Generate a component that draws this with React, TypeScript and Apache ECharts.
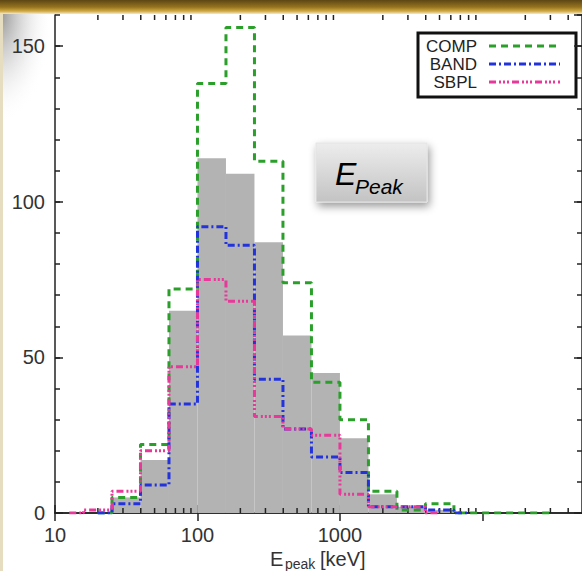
import React, { useEffect, useRef } from 'react';
import * as echarts from 'echarts';

// Histogram bins: 0.2 dex wide, from 10 keV
const binEdges = [10, 15.85, 25.12, 39.81, 63.1, 100, 158.5, 251.2, 398.1, 631, 1000, 1585, 2512, 3981, 6310, 10000, 15850, 25120, 39810];
const binCenters = [12.59, 19.95, 31.62, 50.12, 79.43, 125.9, 199.5, 316.2, 501.2, 794.3, 1259, 1995, 3162, 5012, 7943, 12590, 19950, 31620];

// Gray histogram (best-fit model sample)
const totalCounts = [0, 0, 5, 17, 65, 114, 109, 87, 57, 45, 24, 6, 2, 1, 0, 0, 0, 0];
// Per-model histograms (null = not drawn)
const compCounts = [null, 0, 5, 22, 72, 138, 156, 113, 74, 42, 30, 7, 1, 3, 0, 0, 0, 0];
const bandCounts = [null, 0, 3, 9, 35, 92, 86, 43, 27, 18, 13, 2, 2, 1, 0, null, null, null];
const sbplCounts = [0, 1, 7, 20, 47, 75, 68, 31, 27, 25, 6, 2, 2, 0, null, null, null, null];

const seriesNames = ['COMP', 'BAND', 'SBPL'];
const xMajorTicks = [10, 100, 1000, 10000];
const xMinorTicks = [20, 30, 40, 50, 60, 70, 80, 90, 200, 300, 400, 500, 600, 700, 800, 900, 2000, 3000, 4000, 5000, 6000, 7000, 8000, 9000, 20000, 30000, 40000];

const GREEN = '#2a9f2a';
const BLUE = '#2233dd';
const PINK = '#e8389a';
const GRAY = '#b3b3b3';
const AXIS = '#222';
const FONT = '"Liberation Sans", Arial, Helvetica, sans-serif';

const dashComp = [7, 5];
const dashBand = [7, 3, 2, 3];
const dashSbpl = [7, 3, 2, 2, 2, 2, 2, 3];

// IDL psym=10 style step line through bin centers, transitions at bin edges
function stepPoints(vals: (number | null)[]) {
  const idx: number[] = [];
  vals.forEach((v, i) => { if (v != null) idx.push(i); });
  const first = idx[0];
  const last = idx[idx.length - 1];
  const pts: number[][] = [[binCenters[first], vals[first] as number]];
  for (let i = first; i < last; i++) {
    pts.push([binEdges[i + 1], vals[i] as number]);
    pts.push([binEdges[i + 1], vals[i + 1] as number]);
  }
  pts.push([binCenters[last], vals[last] as number]);
  return pts;
}

export default function App() {
  const ref = useRef<HTMLDivElement>(null);
  useEffect(() => {
    if (!ref.current) return;
    const chart = echarts.init(ref.current, undefined, { renderer: 'svg' });

    const xBase = { type: 'log', logBase: 10, min: 10, max: 50000, gridIndex: 0, splitLine: { show: false } };
    const yBase = { type: 'value', min: 0, max: 160, gridIndex: 0, splitLine: { show: false } };
    const lineSt = { color: AXIS, width: 1.5 };

    const option: any = {
      animation: false,
      backgroundColor: '#ffffff',
      textStyle: { fontFamily: FONT },
      grid: { left: 55, top: 15, width: 531, height: 498, containLabel: false },
      xAxis: [
        {
          ...xBase, position: 'bottom',
          axisLine: { show: true, lineStyle: lineSt },
          axisTick: { show: true, inside: true, length: 8, lineStyle: lineSt, customValues: xMajorTicks },
          axisLabel: {
            show: true, fontSize: 20, color: '#333', margin: 12, fontFamily: FONT,
            showMaxLabel: false, customValues: xMajorTicks,
            formatter: (v: number) => String(Math.round(v)),
          },
        },
        {
          ...xBase, position: 'top',
          axisLine: { show: true, lineStyle: lineSt }, axisLabel: { show: false },
          axisTick: { show: true, inside: true, length: 8, lineStyle: lineSt, customValues: xMajorTicks },
        },
      ],
      yAxis: [
        {
          ...yBase, position: 'left', interval: 50,
          axisLine: { show: true, lineStyle: lineSt },
          axisTick: { show: true, inside: true, length: 8, lineStyle: lineSt },
          axisLabel: { show: true, fontSize: 20, color: '#333', margin: 10, fontFamily: FONT, showMaxLabel: false },
        },
        {
          ...yBase, position: 'left', interval: 10,
          axisLine: { show: false }, axisLabel: { show: false },
          axisTick: { show: true, inside: true, length: 5, lineStyle: lineSt },
        },
        {
          ...yBase, position: 'right', interval: 50,
          axisLine: { show: true, lineStyle: lineSt }, axisLabel: { show: false },
          axisTick: { show: true, inside: true, length: 8, lineStyle: lineSt },
        },
        {
          ...yBase, position: 'right', interval: 10,
          axisLine: { show: false }, axisLabel: { show: false },
          axisTick: { show: true, inside: true, length: 5, lineStyle: lineSt },
        },
      ],
      series: [
        {
          type: 'custom',
          name: 'total',
          xAxisIndex: 0, yAxisIndex: 0,
          z: 1,
          encode: { x: [0, 1], y: 2 },
          data: totalCounts.map((v, i) => [binEdges[i], binEdges[i + 1], v]),
          renderItem: (params: any, api: any) => {
            const p0 = api.coord([api.value(0), api.value(2)]);
            const p1 = api.coord([api.value(1), 0]);
            return {
              type: 'rect',
              shape: { x: p0[0], y: p0[1], width: p1[0] - p0[0], height: p1[1] - p0[1] },
              style: { fill: GRAY },
            };
          },
        },
        {
          // minor log ticks on bottom and top x axes
          type: 'custom',
          name: 'minorTicks',
          xAxisIndex: 0, yAxisIndex: 0,
          z: 3, silent: true, clip: false,
          encode: { x: 0, y: 1 },
          data: xMinorTicks.map((v) => [v, 0]),
          renderItem: (params: any, api: any) => {
            const b = api.coord([api.value(0), 0]);
            const t = api.coord([api.value(0), 160]);
            return {
              type: 'group',
              children: [
                { type: 'line', shape: { x1: b[0], y1: b[1], x2: b[0], y2: b[1] - 5 }, style: { stroke: AXIS, lineWidth: 1.5 } },
                { type: 'line', shape: { x1: t[0], y1: t[1], x2: t[0], y2: t[1] + 5 }, style: { stroke: AXIS, lineWidth: 1.5 } },
              ],
            };
          },
        },
        {
          type: 'line', name: seriesNames[0], xAxisIndex: 0, yAxisIndex: 0, z: 4,
          data: stepPoints(compCounts), symbol: 'none', showSymbol: false,
          lineStyle: { color: GREEN, width: 3, type: dashComp },
        },
        {
          type: 'line', name: seriesNames[1], xAxisIndex: 0, yAxisIndex: 0, z: 5,
          data: stepPoints(bandCounts), symbol: 'none', showSymbol: false,
          lineStyle: { color: BLUE, width: 3, type: dashBand },
        },
        {
          type: 'line', name: seriesNames[2], xAxisIndex: 0, yAxisIndex: 0, z: 6,
          data: stepPoints(sbplCounts), symbol: 'none', showSymbol: false,
          lineStyle: { color: PINK, width: 3, type: dashSbpl },
        },
      ],
      graphic: [
        // slide decorations
        {
          type: 'rect', z: -1, silent: true,
          shape: { x: 0, y: 0, width: 582, height: 14 },
          style: {
            fill: new echarts.graphic.LinearGradient(0, 0, 0, 1, [
              { offset: 0, color: '#5c4615' },
              { offset: 0.5, color: '#94721f' },
              { offset: 0.8, color: '#d2aa42' },
              { offset: 1, color: '#f2ead2' },
            ]),
          },
        },
        {
          type: 'rect', z: -1, silent: true,
          shape: { x: 0, y: 14, width: 52, height: 110 },
          style: {
            fill: new echarts.graphic.RadialGradient(0, 0, 1, [
              { offset: 0, color: 'rgba(140,140,140,0.95)' },
              { offset: 0.5, color: 'rgba(200,200,200,0.5)' },
              { offset: 1, color: 'rgba(255,255,255,0)' },
            ]),
          },
        },
        {
          type: 'rect', z: -1, silent: true,
          shape: { x: 0, y: 14, width: 3, height: 557 },
          style: { fill: '#e6dcc0' },
        },
        // legend
        {
          type: 'group', z: 50,
          children: [
            { type: 'rect', shape: { x: 418, y: 33, width: 158, height: 64 }, style: { fill: '#fff', stroke: '#111', lineWidth: 3 } },
            { type: 'text', style: { text: seriesNames[0], x: 477, y: 46, fill: '#222', fontSize: 17, fontFamily: FONT, align: 'right', verticalAlign: 'middle' } },
            { type: 'text', style: { text: seriesNames[1], x: 477, y: 64, fill: '#222', fontSize: 17, fontFamily: FONT, align: 'right', verticalAlign: 'middle' } },
            { type: 'text', style: { text: seriesNames[2], x: 477, y: 82, fill: '#222', fontSize: 17, fontFamily: FONT, align: 'right', verticalAlign: 'middle' } },
            { type: 'line', shape: { x1: 489, y1: 46, x2: 556, y2: 46 }, style: { stroke: GREEN, lineWidth: 3, lineDash: dashComp } },
            { type: 'line', shape: { x1: 489, y1: 64, x2: 560, y2: 64 }, style: { stroke: BLUE, lineWidth: 3, lineDash: dashBand } },
            { type: 'line', shape: { x1: 489, y1: 82, x2: 560, y2: 82 }, style: { stroke: PINK, lineWidth: 3, lineDash: dashSbpl } },
          ],
        },
        // E_Peak badge
        {
          type: 'group', z: 50,
          children: [
            {
              type: 'rect', shape: { x: 316, y: 143, width: 111, height: 59 },
              style: {
                fill: new echarts.graphic.LinearGradient(0, 0, 0, 1, [
                  { offset: 0, color: '#ededed' },
                  { offset: 1, color: '#c3c3c3' },
                ]),
                stroke: '#e4e4e4', lineWidth: 1,
                shadowBlur: 8, shadowOffsetX: 2, shadowOffsetY: 4, shadowColor: 'rgba(0,0,0,0.4)',
              },
            },
            { type: 'text', style: { text: 'E', x: 335, y: 174, fill: '#000', fontSize: 32, fontStyle: 'italic', fontFamily: FONT, verticalAlign: 'middle' } },
            { type: 'text', style: { text: 'Peak', x: 355, y: 186, fill: '#000', fontSize: 21, fontStyle: 'italic', fontFamily: FONT, verticalAlign: 'middle' } },
          ],
        },
        // x-axis title
        { type: 'text', z: 50, style: { text: 'E', x: 270, y: 559, fill: '#333', fontSize: 20, fontFamily: FONT, verticalAlign: 'middle' } },
        { type: 'text', z: 50, style: { text: 'peak', x: 285, y: 564, fill: '#333', fontSize: 14, fontFamily: FONT, verticalAlign: 'middle' } },
        { type: 'text', z: 50, style: { text: '[keV]', x: 320, y: 559, fill: '#333', fontSize: 20, fontFamily: FONT, verticalAlign: 'middle' } },
      ],
    };

    chart.setOption(option);
    return () => chart.dispose();
  }, []);

  return (
    <div
      ref={ref}
      style={{ position: 'absolute', left: 0, top: 0, width: 582, height: 571, overflow: 'hidden' }}
    />
  );
}
